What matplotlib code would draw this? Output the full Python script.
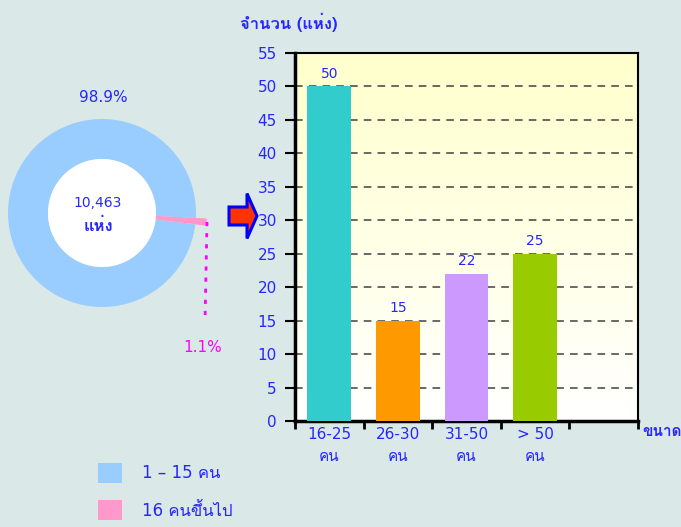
import numpy as np
import matplotlib
matplotlib.use('Agg')
import matplotlib.pyplot as plt
from matplotlib import font_manager
from matplotlib.ft2font import FT2Font
from matplotlib.colors import LinearSegmentedColormap

# data
share_labels = ['1 – 15 คน', '16 คนขึ้นไป']
share_values = [98.9, 1.1]
total_count = '10,463'
total_unit = 'แห่ง'
size_labels = ['16-25\nคน', '26-30\nคน', '31-50\nคน', '> 50\nคน']
size_counts = [50, 15, 22, 25]
bar_colors = ['#33CCCC', '#FF9900', '#CC99FF', '#99CC00']


def find_thai_font():
    # look for any installed font that has Thai glyphs
    for f in font_manager.fontManager.ttflist:
        try:
            if ord('ก') in FT2Font(f.fname).get_charmap():
                return f.name
        except Exception:
            pass
    return None


families = ['DejaVu Sans']
thai = find_thai_font()
if thai:
    families.append(thai)
plt.rcParams['font.family'] = families
thai_first = ([thai] if thai else []) + ['DejaVu Sans']

blue = '#2626FF'
bg = '#DAE8E8'

fig = plt.figure(figsize=(6.81, 5.27), dpi=100, facecolor=bg)

# full-figure axes in pixel units (y up) for donut, arrow, legend
ax_bg = fig.add_axes([0, 0, 1, 1])
ax_bg.set_facecolor(bg)
wedges, _ = ax_bg.pie(share_values, center=(102, 314), radius=94, startangle=-3,
                      colors=['#99CCFF', '#FF99CC'],
                      wedgeprops=dict(width=40, linewidth=0))
wedges[1].set_radius(105)
wedges[1].set_width(52)
# white hole of the donut
ax_bg.pie([1], center=(102, 314), radius=54, colors=['white'],
          wedgeprops=dict(linewidth=0))
ax_bg.set_xlim(0, 681)
ax_bg.set_ylim(0, 527)
ax_bg.set_aspect('equal')
ax_bg.axis('off')

ax_bg.text(103, 527 - 97, f'{share_values[0]}%', color=blue, fontsize=11,
           ha='center', va='center')
ax_bg.text(98, 527 - 203, total_count, color=blue, fontsize=10,
           ha='center', va='center')
ax_bg.text(98, 527 - 226, total_unit, color=blue, fontsize=12,
           ha='center', va='center', family=thai_first, fontweight='bold')
ax_bg.plot([207, 205], [527 - 222, 527 - 322], color='#FF00FF', lw=2,
           linestyle=(0, (1.5, 2.5)))
ax_bg.text(203, 527 - 347, f'{share_values[1]}%', color='#FF00FF', fontsize=11,
           ha='center', va='center')

ax_bg.arrow(229, 527 - 216, 18, 0, width=18, head_width=45, head_length=10,
            length_includes_head=False, fc='#FF3300', ec='#0000FF', lw=2.2)

ax_bg.legend(wedges, share_labels, loc='upper left',
             bbox_to_anchor=(98, 527 - 463), bbox_transform=ax_bg.transData,
             frameon=False, fontsize=12, labelcolor=blue, borderpad=0,
             borderaxespad=0, handlelength=1.45, handleheight=1.45,
             labelspacing=1.05, handletextpad=1.2)

# bar chart
ax = fig.add_axes([295 / 681, 106 / 527, 343 / 681, 368 / 527])
x = np.arange(len(size_labels))
grad = LinearSegmentedColormap.from_list('g', ['#FFFFFF', '#FFFFCC'])
ax.imshow(np.linspace(0, 1, 256).reshape(-1, 1), cmap=grad, origin='lower',
          aspect='auto', extent=(-0.5, 4.5, 0, 55), zorder=0)
bars = ax.bar(x, size_counts, width=0.64, color=bar_colors, zorder=3)
ax.bar_label(bars, padding=4, color=blue, fontsize=10)

ax.set_xlim(-0.5, 4.5)
ax.set_ylim(0, 55)
ax.set_yticks(np.arange(0, 56, 5))
ax.set_xticks(np.arange(-0.5, 5, 1), labels=[])
ax.set_xticks(x, labels=size_labels, minor=True)
ax.tick_params(axis='y', colors='black', labelcolor=blue, labelsize=11,
               length=7, width=1.5, pad=6)
ax.tick_params(axis='x', which='major', length=6, width=2, colors='black')
ax.tick_params(axis='x', which='minor', length=0, labelcolor=blue,
               labelsize=11, pad=4)
for lbl in ax.get_xticklabels(minor=True):
    lbl.set_linespacing(1.6)

ax.yaxis.grid(True, color='#404040', linestyle=(0, (5, 4)), lw=1.1, zorder=1)
ax.set_axisbelow(True)
for side in ['left', 'bottom']:
    ax.spines[side].set_linewidth(2.5)
for side in ['top', 'right']:
    ax.spines[side].set_linewidth(1.5)

fig.text(240 / 681, 1 - 22 / 527, 'จำนวน (แห่ง)', color=blue, fontsize=12,
         fontweight='bold', ha='left', va='center', family=thai_first)
fig.text(642 / 681, 1 - 432 / 527, 'ขนาด', color=blue, fontsize=11,
         fontweight='bold', ha='left', va='center', family=thai_first)

fig.savefig('out.png', dpi=100, facecolor=bg)
